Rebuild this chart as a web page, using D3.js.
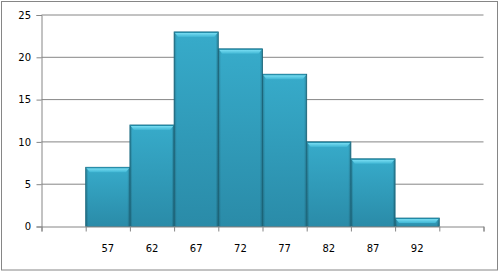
<!DOCTYPE html>
<html>
<head>
<meta charset="utf-8">
<script src="https://cdn.jsdelivr.net/npm/d3@7"></script>
<style>
body { margin: 0; background: #fff; }
svg text { font-family: "DejaVu Sans", Verdana, sans-serif; font-size: 10px; fill: #000; }
</style>
</head>
<body>
<div id="chart"></div>
<script>
const svgWidth = 500, svgHeight = 272;

// bins (first and last slot are empty in the original)
const categories = ["", "57", "62", "67", "72", "77", "82", "87", "92", " "];
const binLabels = ["57", "62", "67", "72", "77", "82", "87", "92"];
const counts = [7, 12, 23, 21, 18, 10, 8, 1];
const yTicks = [0, 5, 10, 15, 20, 25];

const margin = { top: 15, right: 16.5, bottom: 45.5, left: 41.5 };
const width = svgWidth - margin.left - margin.right;
const height = svgHeight - margin.top - margin.bottom;

const svg = d3.select("#chart").append("svg")
  .attr("width", svgWidth)
  .attr("height", svgHeight);

// outer frame
svg.append("rect")
  .attr("x", 1.5).attr("y", 1.5)
  .attr("width", 496).attr("height", 268.5)
  .attr("fill", "#fff")
  .attr("stroke", "#868686");

const defs = svg.append("defs");
const body = defs.append("linearGradient").attr("id", "body")
  .attr("x1", 0).attr("y1", 0).attr("x2", 0).attr("y2", 1);
body.append("stop").attr("offset", "0%").attr("stop-color", "#37abca");
body.append("stop").attr("offset", "100%").attr("stop-color", "#2a8ba8");
const side = defs.append("linearGradient").attr("id", "side")
  .attr("x1", 0).attr("y1", 0).attr("x2", 1).attr("y2", 0);
side.append("stop").attr("offset", "0%").attr("stop-color", "#000").attr("stop-opacity", 0.25);
side.append("stop").attr("offset", "6%").attr("stop-color", "#000").attr("stop-opacity", 0);
side.append("stop").attr("offset", "94%").attr("stop-color", "#000").attr("stop-opacity", 0);
side.append("stop").attr("offset", "100%").attr("stop-color", "#000").attr("stop-opacity", 0.25);
const topGrad = defs.append("linearGradient").attr("id", "topbevel")
  .attr("x1", 0).attr("y1", 0).attr("x2", 0).attr("y2", 1);
topGrad.append("stop").attr("offset", "0%").attr("stop-color", "#7fe2f6");
topGrad.append("stop").attr("offset", "100%").attr("stop-color", "#3fb6d4");

const g = svg.append("g").attr("transform", `translate(${margin.left},${margin.top})`);

const x = d3.scaleBand().domain(d3.range(categories.length)).range([0, width]).padding(0);
const y = d3.scaleLinear().domain([0, 25]).range([height, 0]);

// gridlines
g.append("g").selectAll("line")
  .data(yTicks.filter(d => d > 0))
  .enter().append("line")
  .attr("x1", 0).attr("x2", width)
  .attr("y1", d => y(d)).attr("y2", d => y(d))
  .attr("stroke", "#868686");

// y axis
const yAxis = g.append("g")
  .call(d3.axisLeft(y).tickValues(yTicks).tickSize(5).tickPadding(5));
yAxis.select(".domain").attr("stroke", "#868686");
yAxis.selectAll(".tick line").attr("stroke", "#868686");
yAxis.selectAll("text").attr("dx", "-0.5");

// bars
const bars = g.append("g").selectAll("g")
  .data(counts)
  .enter().append("g")
  .attr("transform", (d, i) => `translate(${x(i + 1)},0)`);

const bw = x.bandwidth();

bars.append("rect")
  .attr("x", 0).attr("y", d => y(d))
  .attr("width", bw).attr("height", d => height - y(d))
  .attr("fill", "url(#body)")
  .attr("stroke", "#1d6f86")
  .attr("stroke-width", 0.8);

bars.append("rect")
  .attr("x", 0).attr("y", d => y(d))
  .attr("width", bw).attr("height", d => height - y(d))
  .attr("fill", "url(#side)");

// top bevel
bars.append("path")
  .attr("d", d => {
    const t = y(d), b = Math.min(5, (height - y(d)));
    return `M0.5,${t + 0.5}L${bw - 0.5},${t + 0.5}L${bw - 4},${t + b}L4,${t + b}Z`;
  })
  .attr("fill", "url(#topbevel)");

bars.append("line")
  .attr("x1", 0.5).attr("x2", bw - 0.5)
  .attr("y1", d => y(d) + 0.5).attr("y2", d => y(d) + 0.5)
  .attr("stroke", "#1f88a4").attr("stroke-width", 1);

// x axis
const xLin = d3.scaleLinear().domain([0, categories.length]).range([0, width]);
const xAxis = g.append("g")
  .attr("transform", `translate(0,${height})`)
  .call(d3.axisBottom(xLin).ticks(categories.length).tickSize(5).tickFormat(""));
xAxis.select(".domain").attr("stroke", "#868686");
xAxis.selectAll(".tick line").attr("stroke", "#868686");

g.append("g").selectAll("text")
  .data(binLabels)
  .enter().append("text")
  .attr("x", (d, i) => x(i + 1) + bw / 2)
  .attr("y", height + 25.5)
  .attr("text-anchor", "middle")
  .text(d => d);
</script>
</body>
</html>
